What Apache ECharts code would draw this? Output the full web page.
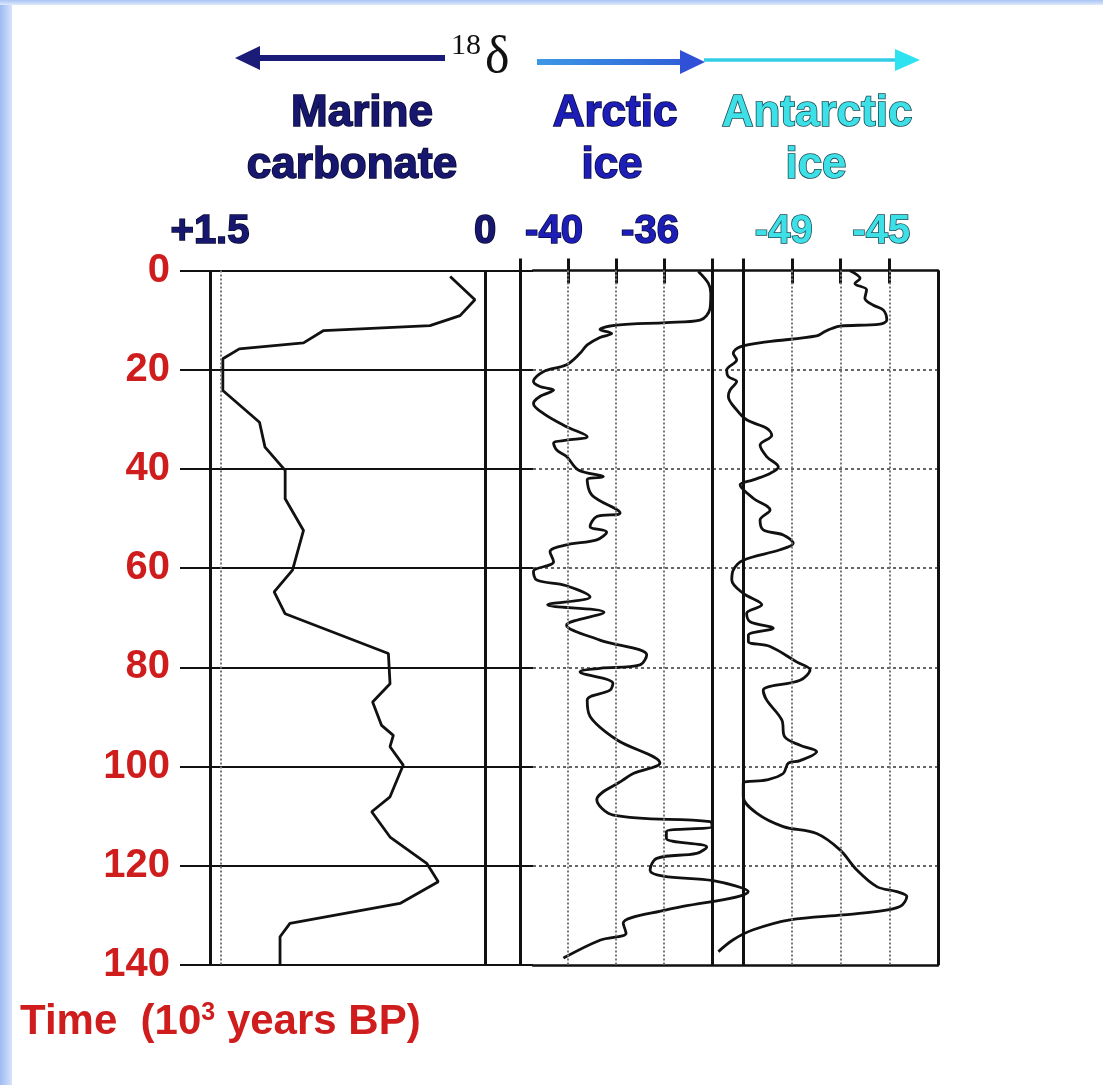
<!DOCTYPE html>
<html><head><meta charset="utf-8">
<script src="https://cdn.jsdelivr.net/npm/echarts@6/dist/echarts.min.js"></script>
<style>html,body{margin:0;padding:0;background:#fff;}#c{width:1103px;height:1085px;}</style>
</head><body><div id="c"></div>
<script>
// ---- data (time in 10^3 years BP, delta-18O values) ----
const timeTicks = [0, 20, 40, 60, 80, 100, 120, 140];

const marineTime = [1.2, 5.9, 9.1, 11.1, 12.1, 14.6, 15.8, 17.8, 24.2, 30.6, 35.6, 40.3, 46.0, 52.4, 60.4, 64.8, 69.2, 77.2, 83.3, 87.0, 91.7, 93.7, 96.0, 99.7, 106.1, 109.1, 114.2, 119.5, 123.2, 127.6, 131.6, 134.3, 140];
const marineDelta = [0.19, 0.055, 0.136, 0.30, 0.88, 0.99, 1.34, 1.43, 1.43, 1.23, 1.2, 1.09, 1.09, 0.99, 1.05, 1.15, 1.09, 0.527, 0.518, 0.613, 0.564, 0.5, 0.518, 0.446, 0.518, 0.618, 0.518, 0.318, 0.255, 0.464, 1.064, 1.118, 1.118];

const arcticTime = [0.2, 2.6, 4.6, 7.6, 10.0, 10.5, 11.0, 11.9, 12.7, 13.5, 15.0, 16.7, 19.0, 20.4, 22.4, 23.4, 24.1, 25.4, 26.8, 28.8, 31.5, 33.5, 34.2, 34.8, 36.2, 37.5, 40.2, 41.6, 42.2, 45.3, 48.9, 49.6, 51.6, 52.7, 54.3, 55.3, 56.7, 58.7, 60.7, 62.4, 63.5, 65.8, 67.4, 68.9, 71.5, 74.5, 77.5, 79.5, 80.2, 80.9, 83.2, 84.6, 86.6, 89.9, 94.6, 99.3, 101.4, 102.7, 106.7, 109.8, 111.1, 112.1, 113.1, 114.5, 116.2, 117.5, 118.5, 120.9, 122.1, 123.0, 125.2, 128.9, 131.6, 133.6, 135.0, 138.6];
const arcticDelta = [-34.57, -34.15, -34.05, -34.08, -34.5, -35.9, -37.97, -38.67, -38.18, -38.67, -39.2, -39.5, -40.06, -41.03, -41.44, -41.17, -40.6, -41.17, -41.44, -41.03, -40.06, -39.2, -40.06, -40.6, -40.47, -40.06, -39.57, -38.53, -39.2, -39.0, -37.83, -38.8, -39.08, -38.39, -38.8, -40.06, -40.75, -40.6, -41.44, -41.3, -40.1, -39.08, -40.85, -38.5, -40.06, -38.67, -36.72, -37.0, -38.67, -39.5, -38.13, -38.25, -39.2, -39.08, -37.97, -36.17, -37.28, -37.7, -38.8, -38.11, -34.08, -34.0, -35.9, -35.9, -34.22, -34.64, -36.3, -36.58, -36.03, -33.95, -32.49, -35.9, -37.7, -37.58, -38.67, -40.19];

const antarcticTime = [0.04, 1.6, 2.6, 3.9, 5.6, 7.0, 8.0, 10.0, 10.8, 11.2, 11.7, 12.3, 13.2, 14.4, 15.4, 16.7, 18.0, 20.1, 21.4, 22.4, 24.1, 25.4, 28.1, 30.1, 31.8, 33.2, 35.2, 37.5, 39.6, 40.9, 42.2, 43.2, 45.9, 48.3, 50.3, 52.3, 53.3, 55.0, 56.3, 58.4, 60.4, 62.4, 65.1, 67.4, 69.1, 70.8, 72.1, 73.5, 74.8, 75.8, 78.9, 80.5, 82.6, 84.6, 86.6, 90.6, 94.0, 95.7, 97.0, 98.8, 99.3, 101.4, 102.7, 103.4, 106.1, 109.4, 112.1, 113.5, 116.8, 120.8, 124.2, 125.2, 126.2, 128.2, 129.3, 129.9, 130.9, 132.9, 134.9, 137.3];
const antarcticDelta = [-46.61, -46.2, -46.41, -45.93, -46.0, -45.65, -45.24, -45.1, -45.38, -47.02, -47.36, -47.64, -47.98, -50.03, -51.12, -51.4, -51.26, -51.67, -51.6, -51.26, -51.53, -51.6, -51.26, -50.85, -50.03, -49.82, -50.3, -50.03, -49.55, -49.89, -50.58, -51.12, -50.58, -49.89, -50.3, -50.17, -49.35, -48.94, -49.48, -50.99, -51.4, -51.46, -50.99, -50.23, -50.85, -50.71, -49.76, -50.78, -50.78, -49.89, -48.8, -48.25, -48.66, -50.17, -50.03, -49.41, -49.29, -48.66, -47.98, -48.66, -49.14, -49.35, -50.03, -50.99, -50.99, -50.44, -49.35, -47.98, -47.02, -46.34, -45.51, -44.69, -44.28, -44.56, -45.65, -46.89, -49.07, -50.58, -51.4, -52.01];

// axis ranges, panel borders and tick labels
const marineRange = [0, 1.5];
const marineBorders = [0, 1.5];
const marineTickLabels = [1.5, 0];
const marineGuide = [1.435];
const arcticRange = [-42, -32.4];          // extra room on the right for the overshooting curve
const arcticBorders = [-42, -34];
const arcticTicks = [-42, -40, -38, -36, -34];
const arcticTickLabels = [-40, -36];
const arcticGuides = [-40, -38, -36];
const antarcticRange = [-52.2, -43];       // extra room on the left for the overshooting curve
const antarcticBorders = [-51, -43];
const antarcticTicks = [-51, -49, -47, -45];
const antarcticTickLabels = [-49, -45];
const antarcticGuides = [-49, -47, -45];

const zip = (xs, ts) => xs.map((x, i) => [x, ts[i]]);

const TOP = 270.5, H = 694.5;
const FONT = 'Liberation Sans, Arial, sans-serif';
const RED = '#cf1d1d';
const NAVY = '#17176f';
const BLUE = '#1d1db8';
const CYAN = '#3ee0e8';

function borderLines(vals) {
  return vals.map(v => ({ xAxis: v, lineStyle: { type: 'solid', width: 3, color: '#111' } }));
}
function guideLines(vals) {
  return vals.map(v => ({ xAxis: v, lineStyle: { type: [2, 2], width: 2, color: '#777' } }));
}
function yHidden(gi) {
  return { gridIndex: gi, type: 'value', inverse: true, min: 0, max: 140, interval: 20, show: false };
}
function txt(x, y, text, fill, stroke) {
  return { type: 'text', style: { x: x, y: y, text: text, font: 'bold 44px ' + FONT, fill: fill, stroke: stroke, lineWidth: 1.6,
    textAlign: 'center', textVerticalAlign: 'middle', align: 'center', verticalAlign: 'middle' } };
}

const chart = echarts.init(document.getElementById('c'), null, { renderer: 'canvas' });
chart.setOption({
  animation: false,
  backgroundColor: '#ffffff',
  grid: [
    { left: 180, top: TOP, width: 353, height: H, outerBoundsMode: 'none' },
    { left: 533, top: TOP, width: 405, height: H, outerBoundsMode: 'none' },
    { left: 210, top: TOP, width: 275, height: H, outerBoundsMode: 'none' },
    { left: 520, top: TOP, width: 230.4, height: H, outerBoundsMode: 'none' },
    { left: 713.75, top: TOP, width: 224.25, height: H, outerBoundsMode: 'none' }
  ],
  xAxis: [
    { gridIndex: 0, type: 'value', min: 0, max: 1, show: false },
    { gridIndex: 1, type: 'value', min: 0, max: 1, position: 'top',
      axisLine: { show: true, lineStyle: { color: '#111', width: 2.5 } },
      axisTick: { show: false }, axisLabel: { show: false }, splitLine: { show: false } },
    { gridIndex: 1, type: 'value', min: 0, max: 1, position: 'bottom',
      axisLine: { show: true, lineStyle: { color: '#111', width: 2.5 } },
      axisTick: { show: false }, axisLabel: { show: false }, splitLine: { show: false } },
    { gridIndex: 2, type: 'value', min: marineRange[0], max: marineRange[1], inverse: true, position: 'top',
      axisLine: { show: false }, axisTick: { show: false }, splitLine: { show: false },
      axisLabel: { show: true, customValues: marineTickLabels, margin: 19,
        formatter: v => (v > 0 ? '+' + v : String(v)),
        fontFamily: FONT, fontWeight: 'bold', fontSize: 40, color: NAVY,
        textBorderColor: '#0a0a30', textBorderWidth: 1.5 } },
    { gridIndex: 3, type: 'value', min: arcticRange[0], max: arcticRange[1], position: 'top',
      axisLine: { show: false }, splitLine: { show: false },
      axisTick: { show: true, customValues: arcticTicks, inside: false, length: 12, lineStyle: { color: '#111', width: 3 } },
      axisLabel: { show: true, customValues: arcticTickLabels, margin: 19, padding: [0, 28, 0, 0],
        fontFamily: FONT, fontWeight: 'bold', fontSize: 40, color: BLUE,
        textBorderColor: '#0a0a40', textBorderWidth: 1.5 } },
    { gridIndex: 3, type: 'value', min: arcticRange[0], max: arcticRange[1], position: 'top',
      axisLine: { show: false }, splitLine: { show: false }, axisLabel: { show: false },
      axisTick: { show: true, customValues: arcticGuides, inside: true, length: 13, lineStyle: { color: '#111', width: 3 } } },
    { gridIndex: 4, type: 'value', min: antarcticRange[0], max: antarcticRange[1], position: 'top',
      axisLine: { show: false }, splitLine: { show: false },
      axisTick: { show: true, customValues: antarcticTicks, inside: false, length: 12, lineStyle: { color: '#111', width: 3 } },
      axisLabel: { show: true, customValues: antarcticTickLabels, margin: 19, padding: [0, 16, 0, 0],
        fontFamily: FONT, fontWeight: 'bold', fontSize: 40, color: CYAN,
        textBorderColor: '#1d4a52', textBorderWidth: 1.5 } },
    { gridIndex: 4, type: 'value', min: antarcticRange[0], max: antarcticRange[1], position: 'top',
      axisLine: { show: false }, splitLine: { show: false }, axisLabel: { show: false },
      axisTick: { show: true, customValues: antarcticGuides, inside: true, length: 13, lineStyle: { color: '#111', width: 3 } } }
  ],
  yAxis: [
    { gridIndex: 0, type: 'value', inverse: true, min: 0, max: 140, interval: 20,
      axisLine: { show: false }, axisTick: { show: false },
      axisLabel: { show: true, customValues: timeTicks, margin: 10, fontFamily: FONT, fontWeight: 'bold', fontSize: 40, color: RED },
      splitLine: { show: true, lineStyle: { color: '#111', width: 2.2, type: 'solid' } } },
    { gridIndex: 1, type: 'value', inverse: true, min: 0, max: 140, interval: 20,
      axisLine: { show: false }, axisTick: { show: false }, axisLabel: { show: false },
      splitLine: { show: true, showMinLine: false, showMaxLine: false, lineStyle: { color: '#666', width: 2, type: [3, 3] } } },
    yHidden(2), yHidden(3), yHidden(4)
  ],
  series: [
    { type: 'line', name: 'Marine carbonate', xAxisIndex: 3, yAxisIndex: 2,
      data: zip(marineDelta, marineTime), symbol: 'none', smooth: false, clip: false,
      lineStyle: { color: '#111', width: 2.8 },
      markLine: { silent: true, symbol: ['none', 'none'], label: { show: false }, animation: false,
        data: borderLines(marineBorders).concat(guideLines(marineGuide)) } },
    { type: 'line', name: 'Arctic ice', xAxisIndex: 4, yAxisIndex: 3,
      data: zip(arcticDelta, arcticTime), symbol: 'none', smooth: 0.35, clip: false,
      lineStyle: { color: '#111', width: 2.8 },
      markLine: { silent: true, symbol: ['none', 'none'], label: { show: false }, animation: false,
        data: borderLines(arcticBorders).concat(guideLines(arcticGuides)) } },
    { type: 'line', name: 'Antarctic ice', xAxisIndex: 6, yAxisIndex: 4,
      data: zip(antarcticDelta, antarcticTime), symbol: 'none', smooth: 0.35, clip: false,
      lineStyle: { color: '#111', width: 2.8 },
      markLine: { silent: true, symbol: ['none', 'none'], label: { show: false }, animation: false,
        data: borderLines(antarcticBorders).concat(guideLines(antarcticGuides)) } }
  ],
  graphic: [
    { type: 'rect', z: -10, shape: { x: 0, y: 0, width: 12, height: 1085 },
      style: { fill: new echarts.graphic.LinearGradient(0, 0, 1, 0, [{ offset: 0, color: '#9dbaf2' }, { offset: 1, color: '#d6e3fa' }]) } },
    { type: 'rect', z: -10, shape: { x: 0, y: 0, width: 1103, height: 5 },
      style: { fill: new echarts.graphic.LinearGradient(0, 0, 0, 1, [{ offset: 0, color: '#a9c4f4' }, { offset: 1, color: '#dfe9fb' }]) } },
    // arrows
    { type: 'line', shape: { x1: 445, y1: 58, x2: 255, y2: 58 }, style: { stroke: '#1a1c78', lineWidth: 6 } },
    { type: 'polygon', shape: { points: [[235, 58], [260, 46], [260, 70]] }, style: { fill: '#1a1c78' } },
    { type: 'line', shape: { x1: 537, y1: 62, x2: 684, y2: 62 },
      style: { lineWidth: 6, stroke: new echarts.graphic.LinearGradient(0, 0, 1, 0, [{ offset: 0, color: '#3c9ae6' }, { offset: 1, color: '#2f5fd6' }]) } },
    { type: 'polygon', shape: { points: [[705, 62], [680, 50], [680, 74]] }, style: { fill: '#3050d8' } },
    { type: 'line', shape: { x1: 704, y1: 60, x2: 898, y2: 60 }, style: { stroke: '#34cde6', lineWidth: 3.5 } },
    { type: 'polygon', shape: { points: [[920, 60], [895, 49], [895, 71]] }, style: { fill: '#2fe2f0' } },
    // delta 18
    { type: 'text', style: { x: 451, y: 31, text: '18', font: '30px "Liberation Serif", serif', fill: '#111', textAlign: 'left', textVerticalAlign: 'top', align: 'left', verticalAlign: 'top' } },
    { type: 'text', style: { x: 485, y: 58, text: 'δ', font: '52px "Liberation Serif", serif', fill: '#111', textAlign: 'left', textVerticalAlign: 'middle', align: 'left', verticalAlign: 'middle' } },
    // panel titles
    txt(362, 114, 'Marine', NAVY, '#0a0a30'),
    txt(352, 166, 'carbonate', NAVY, '#0a0a30'),
    txt(615, 114, 'Arctic', BLUE, '#0a0a40'),
    txt(612, 166, 'ice', BLUE, '#0a0a40'),
    txt(817, 114, 'Antarctic', CYAN, '#1d4a52'),
    txt(816, 166, 'ice', CYAN, '#1d4a52'),
    // time axis title
    { type: 'text', style: { x: 20, y: 1022, text: '{a|Time  (10}{s|3}{a| years BP)}', textAlign: 'left', textVerticalAlign: 'middle', align: 'left', verticalAlign: 'middle',
      rich: { a: { fontFamily: FONT, fontWeight: 'bold', fontSize: 42, fill: RED, color: RED },
              s: { fontFamily: FONT, fontWeight: 'bold', fontSize: 25, fill: RED, color: RED, verticalAlign: 'top' } } } }
  ]
});
</script></body></html>
